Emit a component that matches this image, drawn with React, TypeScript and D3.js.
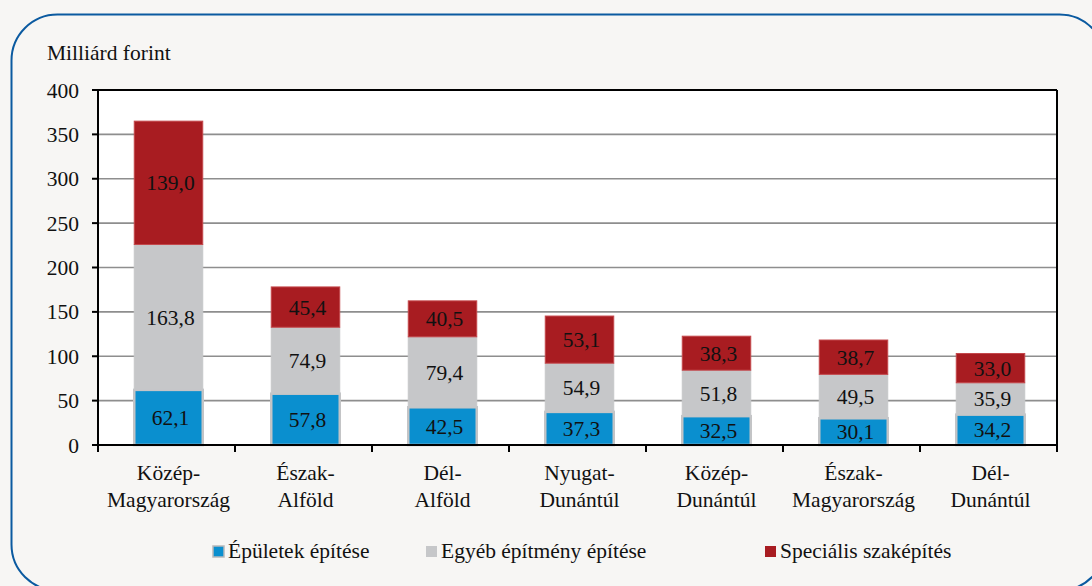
import React from "react";
import * as d3 from "d3";

const categories = [
  ["Közép-", "Magyarország"],
  ["Észak-", "Alföld"],
  ["Dél-", "Alföld"],
  ["Nyugat-", "Dunántúl"],
  ["Közép-", "Dunántúl"],
  ["Észak-", "Magyarország"],
  ["Dél-", "Dunántúl"],
];
const epuletek = [62.1, 57.8, 42.5, 37.3, 32.5, 30.1, 34.2];
const egyeb = [163.8, 74.9, 79.4, 54.9, 51.8, 49.5, 35.9];
const specialis = [139.0, 45.4, 40.5, 53.1, 38.3, 38.7, 33.0];
const seriesNames = ["Épületek építése", "Egyéb építmény építése", "Speciális szaképítés"];
const yTicks = [0, 50, 100, 150, 200, 250, 300, 350, 400];

const W = 1092;
const H = 586;
const FONT = "Liberation Serif";
const colors = ["#0a8fcf", "#c6c7c9", "#a81c21"];
const strokes = ["#c3c4c6", "#c6c7c9", "#c4474b"];

export default function App() {
  React.useEffect(() => {
    document.body.style.margin = "0";
  }, []);
  const left = 98, right = 1057, top = 90, bottom = 445;
  const x = d3.scaleBand<number>().domain(d3.range(categories.length)).range([left, right]).paddingInner(0).paddingOuter(0);
  const y = d3.scaleLinear().domain([0, 400]).range([bottom, top]);
  const data = categories.map((c, i) => ({ i, a: epuletek[i], b: egyeb[i], c: specialis[i] }));
  const stack = d3.stack<any>().keys(["a", "b", "c"])(data);
  const bw = x.bandwidth() * 0.5;
  const off = 2;
  const fmt = (v: number) => v.toFixed(1).replace(".", ",");
  const fs = 21.5;

  const legendX = [213, 426, 765];

  return (
    <svg width={W} height={H} style={{ display: "block" }} fontFamily={FONT}>
      <style>{`text, tspan { font-family: "Liberation Serif", "Times New Roman", serif; }`}</style>
      <rect x={0} y={0} width={W} height={H} fill="#f7f6f4" />
      <rect x={11.5} y={14.5} width={1094} height={576} rx={46} ry={46} fill="#f7f6f4" stroke="#0b5aa0" strokeWidth={2} />
      <rect x={left} y={top} width={right - left} height={bottom - top} fill="#ffffff" />
      {yTicks.filter((t) => t > 0 && t < 400).map((t) => (
        <line key={t} x1={left} x2={right} y1={y(t)} y2={y(t)} stroke="#8e8e8e" strokeWidth={1.6} />
      ))}
      {stack.map((layer, si) =>
        layer.map((d, i) => (
          <g key={si + "-" + i}>
            <rect
              x={(x(i) as number) + (x.bandwidth() - bw) / 2 + off}
              y={y(d[1])}
              width={bw}
              height={y(d[0]) - y(d[1])}
              fill={colors[si]}
              stroke={strokes[si]}
              strokeWidth={si === 0 ? 2.5 : 1}
            />
            <text
              x={(x(i) as number) + x.bandwidth() / 2 + off + 2}
              y={(y(d[0]) + y(d[1])) / 2}
              dy="0.35em"
              textAnchor="middle"
              fontSize={fs}
              fontFamily={FONT}
              fill="#111"
            >
              {fmt(d[1] - d[0])}
            </text>
          </g>
        ))
      )}
      <line x1={left} x2={right} y1={top} y2={top} stroke="#000" strokeWidth={2} />
      <line x1={right} x2={right} y1={top} y2={bottom} stroke="#000" strokeWidth={2} />
      <line x1={left} x2={left} y1={top} y2={bottom} stroke="#000" strokeWidth={2} />
      <line x1={left - 6} x2={right} y1={bottom} y2={bottom} stroke="#000" strokeWidth={2} />
      {yTicks.map((t) => (
        <g key={t}>
          <line x1={left - 6} x2={left} y1={y(t)} y2={y(t)} stroke="#000" strokeWidth={2} />
          <text x={79} y={y(t)} dy="0.35em" textAnchor="end" fontSize={fs} fontFamily={FONT} fill="#111">
            {t}
          </text>
        </g>
      ))}
      {d3.range(categories.length + 1).map((k) => {
        const xx = left + k * x.step();
        return <line key={k} x1={xx} x2={xx} y1={bottom} y2={bottom + 7} stroke="#000" strokeWidth={2} />;
      })}
      {categories.map((c, i) => (
        <text key={i} textAnchor="middle" fontSize={fs} fontFamily={FONT} fill="#111">
          <tspan x={(x(i) as number) + x.bandwidth() / 2 + off} y={480}>{c[0]}</tspan>
          <tspan x={(x(i) as number) + x.bandwidth() / 2 + off} y={507}>{c[1]}</tspan>
        </text>
      ))}
      <text x={47} y={60} fontSize={fs} fontFamily={FONT} fill="#111">Milliárd forint</text>
      {seriesNames.map((n, i) => (
        <g key={n}>
          <rect x={legendX[i]} y={546} width={11} height={11} fill={colors[i]} stroke={i === 0 ? "#b8b9bb" : "none"} strokeWidth={1.5} />
          <text x={legendX[i] + 15} y={558} fontSize={fs} fontFamily={FONT} fill="#111">{n}</text>
        </g>
      ))}
    </svg>
  );
}
